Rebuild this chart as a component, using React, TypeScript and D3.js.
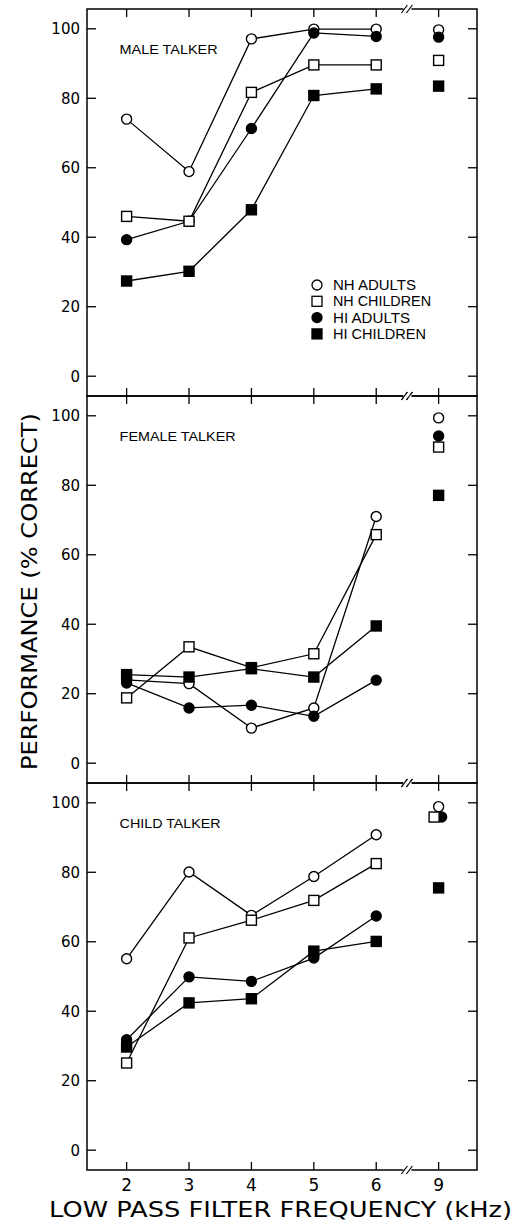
import React from "react";
import * as d3 from "d3";

const CATEGORIES = ["2", "3", "4", "5", "6", "9"];
const PANEL_TITLES = ["MALE TALKER", "FEMALE TALKER", "CHILD TALKER"];
const SERIES_NAMES = ["NH ADULTS", "NH CHILDREN", "HI ADULTS", "HI CHILDREN"];
const Y_TICKS = [0, 20, 40, 60, 80, 100];

// Male talker
const MALE_NH_ADULTS = [74.0, 58.9, 97.1, 99.9, 99.9, 99.7];
const MALE_NH_CHILDREN = [46.0, 44.6, 81.7, 89.6, 89.6, 90.9];
const MALE_HI_ADULTS = [39.3, 44.6, 71.3, 98.8, 97.8, 97.6];
const MALE_HI_CHILDREN = [27.4, 30.2, 47.9, 80.8, 82.7, 83.5];
// Female talker
const FEMALE_NH_ADULTS = [24.0, 22.9, 10.1, 15.9, 71.0, 99.4];
const FEMALE_NH_CHILDREN = [18.8, 33.5, 27.5, 31.5, 65.8, 91.0];
const FEMALE_HI_ADULTS = [23.1, 15.9, 16.7, 13.5, 23.9, 94.2];
const FEMALE_HI_CHILDREN = [25.5, 24.8, 27.2, 24.8, 39.5, 77.1];
// Child talker
const CHILD_NH_ADULTS = [55.1, 80.1, 67.6, 78.8, 90.8, 98.9];
const CHILD_NH_CHILDREN = [25.1, 61.1, 66.2, 71.9, 82.5, 95.9];
const CHILD_HI_ADULTS = [31.8, 49.9, 48.6, 55.3, 67.4, 95.9];
const CHILD_HI_CHILDREN = [29.7, 42.4, 43.6, 57.3, 60.1, 75.5];

const PANEL_DATA = [
  [MALE_NH_ADULTS, MALE_NH_CHILDREN, MALE_HI_ADULTS, MALE_HI_CHILDREN],
  [FEMALE_NH_ADULTS, FEMALE_NH_CHILDREN, FEMALE_HI_ADULTS, FEMALE_HI_CHILDREN],
  [CHILD_NH_ADULTS, CHILD_NH_CHILDREN, CHILD_HI_ADULTS, CHILD_HI_CHILDREN],
];

// small horizontal dodge at 9 kHz in the child-talker panel (series index -> px)
const DODGE: Record<string, number> = { "2-1": -4.5, "2-2": 3 };

// rendered widths of labels (to mimic the original lettering)
const TEXT_WIDTH: Record<string, number> = {
  "MALE TALKER": 98,
  "FEMALE TALKER": 116,
  "CHILD TALKER": 101,
  "NH ADULTS": 83,
  "NH CHILDREN": 98,
  "HI ADULTS": 77,
  "HI CHILDREN": 93,
};

const LEFT = 87;
const RIGHT = 477;
const PANEL_TOPS = [9, 396, 783];
const PANEL_H = 387;
const BREAK_IDX = 4.5;

const FONT_NUM = "'DejaVu Sans', sans-serif";
const FONT_TXT = "'Liberation Sans', Arial, sans-serif";

function Marker({ type, x, y }: { type: number; x: number; y: number }) {
  const filled = type >= 2;
  const circle = type === 0 || type === 2;
  const fill = filled ? "#000" : "#fff";
  if (circle) {
    return <circle cx={x} cy={y} r={5} fill={fill} stroke="#000" strokeWidth={1.4} />;
  }
  const s = 10;
  return (
    <rect x={x - s / 2} y={y - s / 2} width={s} height={s} fill={fill} stroke="#000" strokeWidth={1.4} />
  );
}

export default function App() {
  const x = d3.scaleLinear().domain([-0.635, 5.615]).range([LEFT, RIGHT]);
  const drawOrder = [0, 2, 1, 3];
  const bx = x(BREAK_IDX);

  const breakMark = (y: number, key: string) => (
    <g key={key}>
      <rect x={bx - 4} y={y - 1.5} width={8} height={3} fill="#fff" />
      <line x1={bx - 6} y1={y + 4} x2={bx} y2={y - 4} stroke="#000" strokeWidth={1.2} />
      <line x1={bx - 1} y1={y + 4} x2={bx + 5} y2={y - 4} stroke="#000" strokeWidth={1.2} />
    </g>
  );

  return (
    <svg width={520} height={1221} style={{ position: "absolute", left: 0, top: 0, background: "#fff" }}>
      <rect x={0} y={0} width={520} height={1221} fill="#fff" />
      {PANEL_DATA.map((series, p) => {
        const top = PANEL_TOPS[p];
        const bottom = top + PANEL_H;
        const y = d3.scaleLinear().domain([-5.7, 105.7]).range([bottom, top]);
        const line = d3
          .line<number>()
          .x((_, i) => x(i))
          .y((d) => y(d));
        return (
          <g key={p}>
            {/* frame */}
            <rect x={LEFT} y={top} width={RIGHT - LEFT} height={PANEL_H} fill="none" stroke="#000" strokeWidth={1.5} />
            {/* y ticks */}
            {Y_TICKS.map((t) => (
              <g key={t}>
                <line x1={LEFT} x2={LEFT + 9} y1={y(t)} y2={y(t)} stroke="#000" strokeWidth={1.3} />
                <line x1={RIGHT - 9} x2={RIGHT} y1={y(t)} y2={y(t)} stroke="#000" strokeWidth={1.3} />
                <text x={LEFT - 7} y={y(t)} dy="0.36em" textAnchor="end" fontFamily={FONT_NUM} fontSize={15}>
                  {t}
                </text>
              </g>
            ))}
            {/* x ticks */}
            {CATEGORIES.map((c, i) => (
              <g key={c}>
                <line x1={x(i)} x2={x(i)} y1={top} y2={top + 8} stroke="#000" strokeWidth={1.3} />
                <line x1={x(i)} x2={x(i)} y1={bottom - 8} y2={bottom} stroke="#000" strokeWidth={1.3} />
              </g>
            ))}
            {breakMark(top, "bt")}
            {breakMark(bottom, "bb")}
            {/* title */}
            <text
              x={x(0) - 7}
              y={top + 45}
              fontFamily={FONT_TXT}
              fontSize={13.5}
              textLength={TEXT_WIDTH[PANEL_TITLES[p]]}
              lengthAdjust="spacingAndGlyphs"
            >
              {PANEL_TITLES[p]}
            </text>
            {/* lines */}
            {series.map((vals, s) => (
              <path key={s} d={line(vals.slice(0, 5)) || ""} fill="none" stroke="#000" strokeWidth={1.3} />
            ))}
            {/* markers */}
            {drawOrder.map((s) =>
              series[s].map((v, i) => (
                <Marker
                  key={`${s}-${i}`}
                  type={s}
                  x={x(i) + (i === 5 ? DODGE[`${p}-${s}`] || 0 : 0)}
                  y={y(v)}
                />
              ))
            )}
            {/* legend */}
            {p === 0 &&
              SERIES_NAMES.map((name, s) => {
                const ly = 285 + s * 16.3;
                return (
                  <g key={name}>
                    {s % 2 === 0 ? (
                      <circle cx={317} cy={ly} r={5} fill={s >= 2 ? "#000" : "#fff"} stroke="#000" strokeWidth={1.3} />
                    ) : (
                      <rect x={312} y={ly - 5} width={10} height={10} fill={s >= 2 ? "#000" : "#fff"} stroke="#000" strokeWidth={1.3} />
                    )}
                    <text
                      x={333}
                      y={ly}
                      dy="0.36em"
                      fontFamily={FONT_TXT}
                      fontSize={14}
                      textLength={TEXT_WIDTH[name]}
                      lengthAdjust="spacingAndGlyphs"
                    >
                      {name}
                    </text>
                  </g>
                );
              })}
          </g>
        );
      })}
      {/* x tick labels */}
      {CATEGORIES.map((c, i) => (
        <text key={c} x={x(i)} y={1191} textAnchor="middle" fontFamily={FONT_NUM} fontSize={17}>
          {c}
        </text>
      ))}
      <text x={49} y={1217} fontFamily={FONT_NUM} fontSize={21} textLength={463} lengthAdjust="spacingAndGlyphs">
        LOW PASS FILTER FREQUENCY (kHz)
      </text>
      <text
        transform={`translate(37, 591.5) rotate(-90)`}
        textAnchor="middle"
        fontFamily={FONT_NUM}
        fontSize={21}
        textLength={357}
        lengthAdjust="spacingAndGlyphs"
      >
        PERFORMANCE (% CORRECT)
      </text>
    </svg>
  );
}
